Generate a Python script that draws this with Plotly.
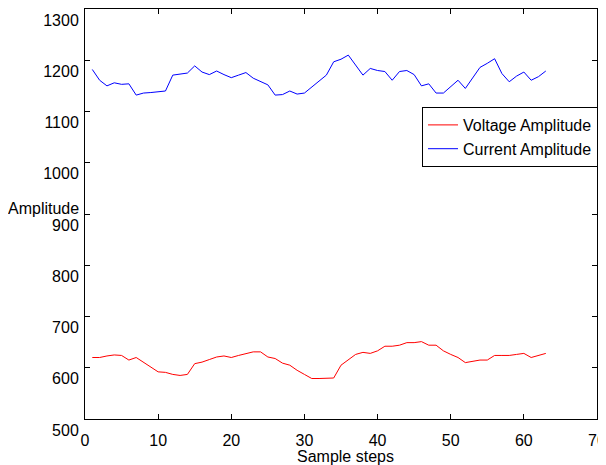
import plotly.graph_objects as go

steps = list(range(1, 64))
voltage_amplitude = [620, 620, 623, 625, 624, 615, 620, 611, 602, 592,
                     591, 587, 585, 587, 608, 611, 616, 621, 623, 620,
                     624, 628, 631, 631, 621, 618, 609, 605, 595, 587,
                     579, 579, 579, 580, 605, 615, 626, 630, 628, 633,
                     642, 642, 644, 649, 649, 651, 644, 644, 633, 626,
                     620, 610, 612, 615, 615, 624, 624, 624, 626, 628,
                     620, 624, 628]
current_amplitude = [1182, 1161, 1150, 1156, 1153, 1154, 1132, 1136, 1137, 1138,
                     1140, 1171, 1173, 1175, 1189, 1177, 1172, 1179, 1172, 1166,
                     1171, 1176, 1165, 1158, 1152, 1132, 1133, 1140, 1134, 1136,
                     1148, 1160, 1171, 1197, 1202, 1210, 1191, 1171, 1184, 1180,
                     1178, 1161, 1178, 1180, 1172, 1150, 1154, 1136, 1136, 1148,
                     1161, 1145, 1166, 1186, 1194, 1203, 1174, 1158, 1169, 1177,
                     1161, 1168, 1179]
x_ticks = [0, 10, 20, 30, 40, 50, 60, 70]
y_ticks = [500, 600, 700, 800, 900, 1000, 1100, 1200, 1300]

FONT = "Liberation Sans, Arial, Helvetica, sans-serif"

# page body has an 8px default margin; the figure is sized to fit the window
W, H = 598, 457
ML, MR, MT, MB = 77, 9, 1, 46
PW = W - ML - MR
PH = H - MT - MB

fig = go.Figure()
fig.add_trace(go.Scatter(x=steps, y=voltage_amplitude, mode="lines",
                         name="Voltage Amplitude",
                         line=dict(color="#ff0000", width=1)))
fig.add_trace(go.Scatter(x=steps, y=current_amplitude, mode="lines",
                         name="Current Amplitude",
                         line=dict(color="#0000ff", width=1)))

axis_common = dict(showgrid=False, zeroline=False, showline=True,
                   linecolor="black", linewidth=1, mirror="ticks",
                   ticks="inside", ticklen=5, tickcolor="black",
                   automargin=False, ticklabeloverflow="allow",
                   tickfont=dict(family=FONT, size=16, color="black"))

fig.update_xaxes(range=[0, 70], tickvals=x_ticks,
                 ticktext=[str(v) for v in x_ticks],
                 ticklabelstandoff=7,
                 **axis_common)
fig.update_yaxes(range=[500, 1300], tickvals=y_ticks,
                 ticktext=[str(v) for v in y_ticks],
                 ticklabelshift=11, ticklabelstandoff=2,
                 **axis_common)

fig.add_annotation(text="Amplitude", xref="paper", yref="paper",
                   x=-4 / PW, y=211 / PH, xanchor="right", yanchor="middle",
                   showarrow=False,
                   font=dict(family=FONT, size=16, color="black"))
fig.add_annotation(text="Sample steps", xref="paper", yref="paper",
                   x=260 / PW, y=-37 / PH,
                   xanchor="center", yanchor="middle", showarrow=False,
                   font=dict(family=FONT, size=16, color="black"))

fig.update_layout(
    width=W, height=H,
    margin=dict(l=ML, r=MR, t=MT, b=MB),
    paper_bgcolor="white", plot_bgcolor="white",
    font=dict(family=FONT, size=16, color="black"),
    legend=dict(x=337 / PW, y=(PH - 98) / PH,
                xref="paper", yref="paper",
                xanchor="left", yanchor="top",
                bgcolor="white", bordercolor="black", borderwidth=1,
                font=dict(family=FONT, size=16, color="black"),
                tracegroupgap=0),
)

fig.write_html("out.html")
